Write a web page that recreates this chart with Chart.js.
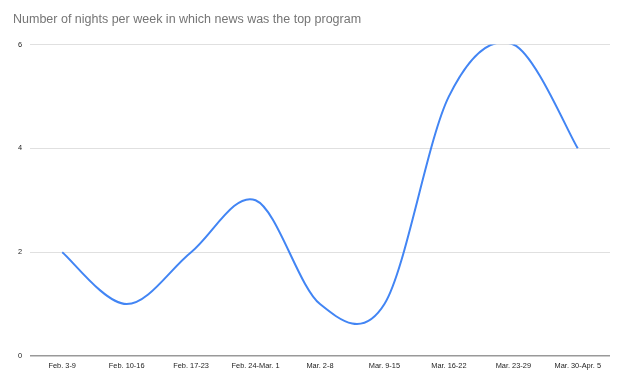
<!DOCTYPE html>
<html>
<head>
<meta charset="utf-8">
<script src="https://cdn.jsdelivr.net/npm/chart.js@4"></script>
<style>
  html, body { margin: 0; padding: 0; background: #fff; }
  #wrap { width: 622px; height: 383px; position: relative; }
</style>
</head>
<body>
<div id="wrap"><canvas id="c" width="622" height="383"></canvas></div>
<script>
const titleText = "Number of nights per week in which news was the top program";
const categories = ["Feb. 3-9", "Feb. 10-16", "Feb. 17-23", "Feb. 24-Mar. 1", "Mar. 2-8", "Mar. 9-15", "Mar. 16-22", "Mar. 23-29", "Mar. 30-Apr. 5"];
const nights = [2, 1, 2, 3, 1, 1, 5, 6, 4];
const yTicks = [0, 2, 4, 6];

// Uniform Catmull-Rom smoothing (like the "smooth" line of the original),
// computed from the point positions that Chart.js itself laid out.
const uniformSpline = {
  id: 'uniformSpline',
  beforeDatasetDraw(chart, args) {
    const meta = args.meta;
    const line = meta.dataset;
    if (!line) return;
    line.updateControlPoints(chart.chartArea, meta.iScale.axis);
    const pts = meta.data;
    const k = 1 / 6;
    for (let i = 0; i < pts.length; i++) {
      const p = pts[i];
      const prev = pts[i - 1] || p;
      const next = pts[i + 1] || p;
      const dx = next.x - prev.x, dy = next.y - prev.y;
      p.cp1x = p.x - k * dx; p.cp1y = p.y - k * dy;
      p.cp2x = p.x + k * dx; p.cp2y = p.y + k * dy;
    }
    line._path = undefined;
  }
};

const ctx = document.getElementById('c').getContext('2d');
new Chart(ctx, {
  type: 'line',
  plugins: [uniformSpline],
  data: {
    labels: categories,
    datasets: [{
      label: titleText,
      data: nights,
      borderColor: '#4285F4',
      borderWidth: 2,
      pointRadius: 0,
      tension: 0.4,
      fill: false
    }]
  },
  options: {
    responsive: false,
    animation: false,
    devicePixelRatio: 1,
    layout: { padding: { left: 13, right: 12, top: 0, bottom: 0 } },
    plugins: {
      legend: { display: false },
      tooltip: { enabled: false },
      title: {
        display: true,
        text: titleText,
        align: 'start',
        color: '#757575',
        font: { family: 'Liberation Sans, Arial, sans-serif', size: 12.5, weight: 'normal' },
        padding: { top: 12, bottom: 17.5 }
      }
    },
    scales: {
      x: {
        offset: true,
        grid: { display: false, drawTicks: false },
        border: { display: false },
        ticks: {
          color: '#222',
          font: { family: 'Liberation Sans, Arial, sans-serif', size: 7.4 },
          padding: 6,
          maxRotation: 0,
          autoSkip: false
        },
        afterFit: (s) => { s.height = 27; }
      },
      y: {
        min: Math.min(...yTicks),
        max: Math.max(...yTicks),
        afterBuildTicks: (s) => { s.ticks = yTicks.map(v => ({ value: v })); },
        grid: {
          drawTicks: false,
          color: (c) => c.tick && c.tick.value === 0 ? '#999999' : '#e0e0e0',
          lineWidth: (c) => c.tick && c.tick.value === 0 ? 1.5 : 1
        },
        border: { display: false },
        ticks: {
          color: '#222',
          font: { family: 'Liberation Sans, Arial, sans-serif', size: 7.4 },
          padding: 8
        },
        afterFit: (s) => { s.width = 17; }
      }
    }
  }
});
</script>
</body>
</html>
